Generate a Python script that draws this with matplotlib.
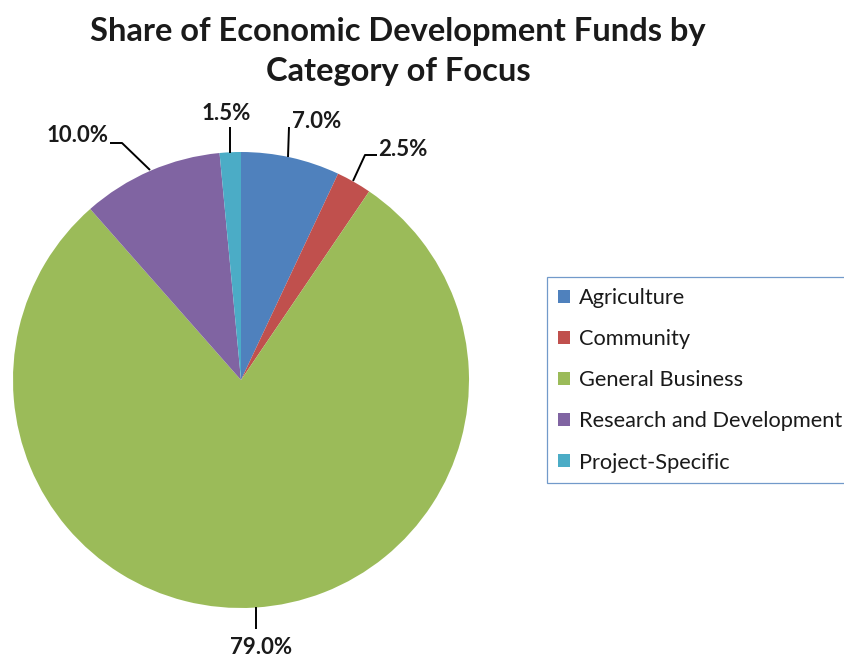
import matplotlib
matplotlib.use("Agg")
import matplotlib.pyplot as plt
from matplotlib.patches import Patch

categories = ["Agriculture", "Community", "General Business", "Research and Development", "Project-Specific"]
shares = [7.0, 2.5, 79.0, 10.0, 1.5]
colors = ["#4F81BD", "#C0504D", "#9BBB59", "#8064A2", "#4BACC6"]
title_lines = ["Share of Economic Development Funds by", "Category of Focus"]

W, H = 845, 658
fig = plt.figure(figsize=(W / 100, H / 100), dpi=100)
ax = fig.add_axes([0, 0, 1, 1])

def py(y):
    return H - y

cx, cy, r = 241, py(380), 228
ax.pie(shares, colors=colors, startangle=90, counterclock=False,
       center=(cx, cy), radius=r, frame=True,
       wedgeprops=dict(linewidth=0))
ax.set_xlim(0, W)
ax.set_ylim(0, H)
ax.set_aspect("equal")
ax.axis("off")

lab_font = dict(family="Lato", fontweight="bold", fontsize=16, color="#1a1a1a")
labels = [f"{v:.1f}%" for v in shares]
label_pos = [(317, 121), (403, 150), (261, 648), (78, 136), (226, 113)]
leaders = [
    [(289, 127), (288, 157)],
    [(377, 155), (365, 155), (353, 181)],
    [(256, 607), (256, 629)],
    [(110, 143), (122, 143), (150, 170)],
    [(230, 127), (230, 153)],
]
for txt, (tx, ty), pts in zip(labels, label_pos, leaders):
    ax.text(tx, py(ty), txt, ha="center", va="center", **lab_font)
    ax.plot([p[0] for p in pts], [py(p[1]) for p in pts], color="black", lw=1.4,
            solid_capstyle="butt")

for line, yy in zip(title_lines, [31, 72]):
    fig.text(398 / W, 1 - yy / H, line, ha="center", va="center", family="Lato",
             fontweight="bold", fontsize=23.5, color="#1a1a1a")

handles = [Patch(facecolor=c, edgecolor="none") for c in colors]
leg = fig.legend(handles, categories, loc="upper left",
                 bbox_to_anchor=(547 / W, 1 - 277 / H), frameon=True,
                 prop=dict(family="Lato", size=15.7), labelspacing=0.97,
                 handlelength=0.55, handleheight=0.55, handletextpad=0.4,
                 borderpad=0.5, fancybox=False, borderaxespad=0)
leg.get_frame().set_edgecolor("#4F81BD")
leg.get_frame().set_linewidth(0.9)
for t in leg.get_texts():
    t.set_color("#1a1a1a")

fig.savefig("out.png", dpi=100, facecolor="white")
